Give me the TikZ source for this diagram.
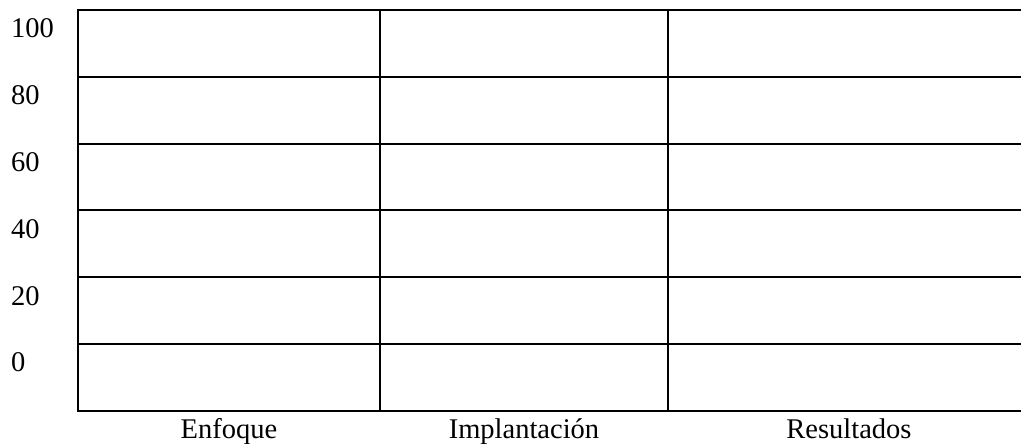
\documentclass[tikz,border=0pt]{standalone}
\usepackage{fontspec}
\setmainfont{Liberation Serif}
\begin{document}
\begin{tikzpicture}[x=1pt,y=-1pt,
  gridline/.style={line width=2pt,line cap=rect},
  ylab/.style={anchor=base west,inner sep=0pt,font=\fontsize{28.5}{30}\selectfont},
  xlab/.style={anchor=base,inner sep=0pt,font=\fontsize{28.5}{30}\selectfont}]
\useasboundingbox (0,0) rectangle (1021,444);
% horizontal lines
\foreach \i in {0,...,6}{
  \draw[gridline] (78,{10+66.75*\i}) -- (1030,{10+66.75*\i});
}
% vertical lines
\draw[gridline] (78,10) -- (78,410.5);
\draw[gridline] (380,10) -- (380,410.5);
\draw[gridline] (668,10) -- (668,410.5);
% y labels
\node[ylab] (l100) at (11,38) {100};
\node[ylab] (l80) at (11,104.75) {80};
\node[ylab] (l60) at (11,171.5) {60};
\node[ylab] (l40) at (11,238.25) {40};
\node[ylab] (l20) at (11,305) {20};
\node[ylab] (l0) at (11,371.75) {0};
% x labels
\node[xlab] (enf) at (229,438) {Enfoque};
\node[xlab] (imp) at (524,438) {Implantación};
\node[xlab] (res) at (849,438) {Resultados};
\end{tikzpicture}
\end{document}
